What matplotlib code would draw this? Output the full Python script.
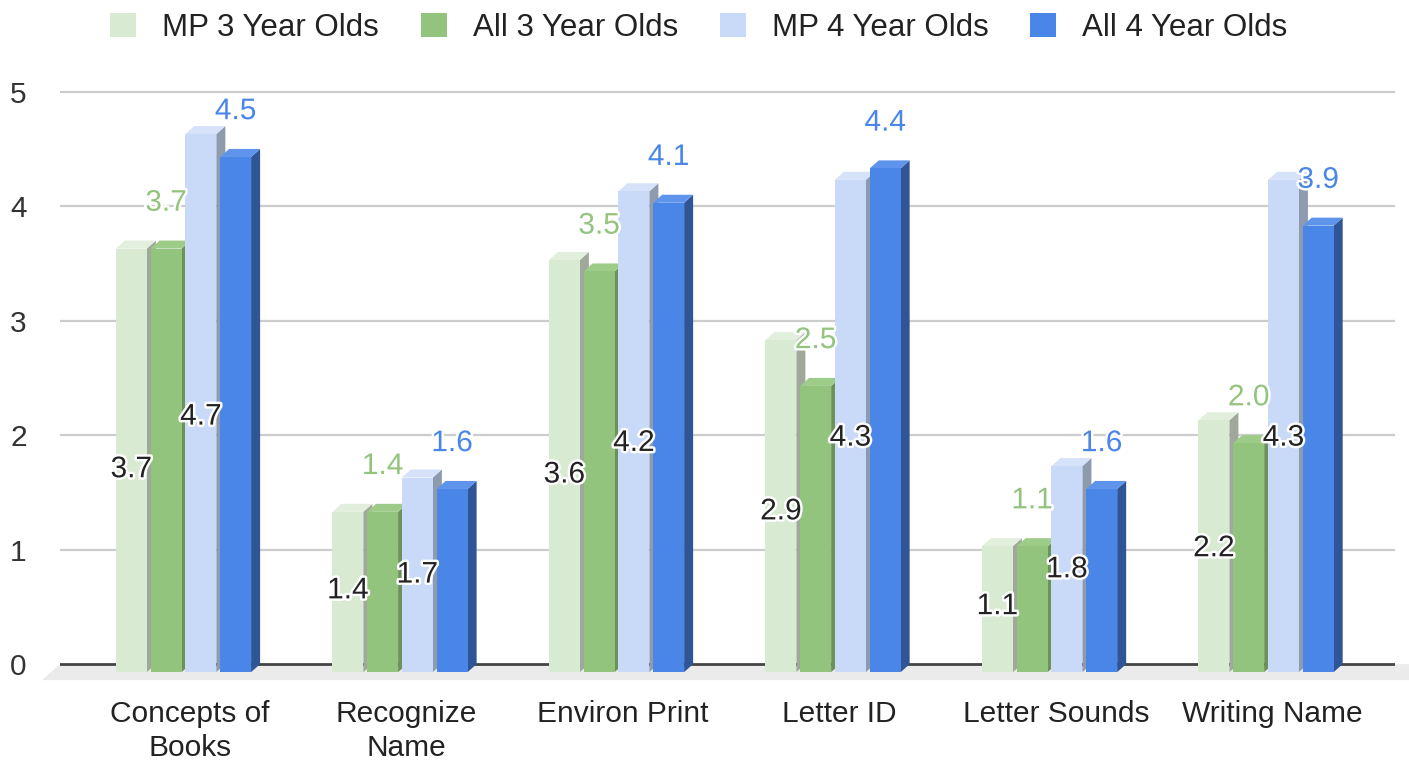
import matplotlib
matplotlib.use("Agg")
import matplotlib.pyplot as plt
import matplotlib.patheffects as pe
from matplotlib.patches import Polygon, Patch

# ------------------------------------------------------------
# Data
# ------------------------------------------------------------
categories = ["Concepts of\nBooks", "Recognize\nName", "Environ Print",
              "Letter ID", "Letter Sounds", "Writing Name"]
series_names = ["MP 3 Year Olds", "All 3 Year Olds", "MP 4 Year Olds", "All 4 Year Olds"]

mp3 = [3.7, 1.4, 3.6, 2.9, 1.1, 2.2]
all3 = [3.7, 1.4, 3.5, 2.5, 1.1, 2.0]
mp4 = [4.7, 1.7, 4.2, 4.3, 1.8, 4.3]
all4 = [4.5, 1.6, 4.1, 4.4, 1.6, 3.9]

y_ticks = [0, 1, 2, 3, 4, 5]

# ------------------------------------------------------------
# Style
# ------------------------------------------------------------
front_colors = ["#d9ead3", "#93c47d", "#c9daf8", "#4a86e8"]
top_colors = ["#e2efdd", "#9dcc89", "#d5e2fa", "#5e94ec"]
side_colors = ["#a0a89b", "#6c9159", "#8e9aae", "#2f5597"]
label_colors = ["#222222", "#93c47d", "#222222", "#4a86e8"]
inside_label = [True, False, True, False]

FS = 21.5
plt.rcParams["font.family"] = ["Liberation Sans", "DejaVu Sans"]

SLOT = 0.1605
WIDTH = 0.143
DX = 0.0416
DY = 0.07
LEFT = -0.342

fig = plt.figure(figsize=(14.09, 7.63), dpi=100)
ax = fig.add_axes([0.0426, 0.0996, 0.9475, 0.7877])
ax.set_xlim(-0.60, 5.566)
ax.set_ylim(-0.2, 5.05)

# gridlines
for t in y_ticks[1:]:
    ax.axhline(t, color="#cccccc", lw=1.6, zorder=0)

# floor
xl, xr = ax.get_xlim()
floor = Polygon([(xl, 0), (xr + 0.2, 0), (xr + 0.2 - 2 * DX, -2 * DY), (xl - 2 * DX, -2 * DY)],
                closed=True, fc="#ebebeb", ec="none", zorder=1, clip_on=False)
ax.add_patch(floor)
ax.axhline(0, color="#444444", lw=2.0, zorder=2)

series = [mp3, all3, mp4, all4]
z = 3
for ci in range(len(categories)):
    for si, vals in enumerate(series):
        v = vals[ci]
        x0 = ci + LEFT + si * SLOT
        x1 = x0 + WIDTH
        side = Polygon([(x1, -DY), (x1 + DX, 0), (x1 + DX, v), (x1, v - DY)],
                       closed=True, fc=side_colors[si], ec="none", zorder=z)
        top = Polygon([(x0, v - DY), (x1, v - DY), (x1 + DX, v), (x0 + DX, v)],
                      closed=True, fc=top_colors[si], ec="none", zorder=z)
        front = Polygon([(x0, -DY), (x1, -DY), (x1, v - DY), (x0, v - DY)],
                        closed=True, fc=front_colors[si], ec="none", zorder=z + 0.5)
        ax.add_patch(side)
        ax.add_patch(top)
        ax.add_patch(front)
        z += 1

# data labels
halo = [pe.withStroke(linewidth=3.5, foreground="white")]
for ci in range(len(categories)):
    for si, vals in enumerate(series):
        v = vals[ci]
        xc = ci + LEFT + si * SLOT + WIDTH / 2
        yc = v * 0.46 if inside_label[si] else v + 0.33
        ax.text(xc, yc, f"{v:.1f}", ha="center", va="center", fontsize=FS,
                color=label_colors[si], path_effects=halo, zorder=200)

ax.set_xticks(range(len(categories)))
ax.set_xticklabels(categories, fontsize=FS, color="#222222", linespacing=1.28)
ax.set_yticks(y_ticks)
ax.set_yticklabels([str(t) for t in y_ticks], fontsize=FS, color="#333333")
ax.tick_params(axis="both", length=0)
ax.tick_params(axis="x", pad=9)
ax.tick_params(axis="y", pad=24)
for sp in ax.spines.values():
    sp.set_visible(False)

handles = [Patch(fc=c, ec="none") for c in front_colors]
fig.legend(handles, series_names, loc="upper center", bbox_to_anchor=(0.496, 1.02),
           ncol=4, frameon=False, fontsize=22.5, handlelength=0.83, handleheight=0.83,
           handletextpad=0.83, columnspacing=1.34, labelcolor="#222222")

fig.savefig("out.png", dpi=100)
